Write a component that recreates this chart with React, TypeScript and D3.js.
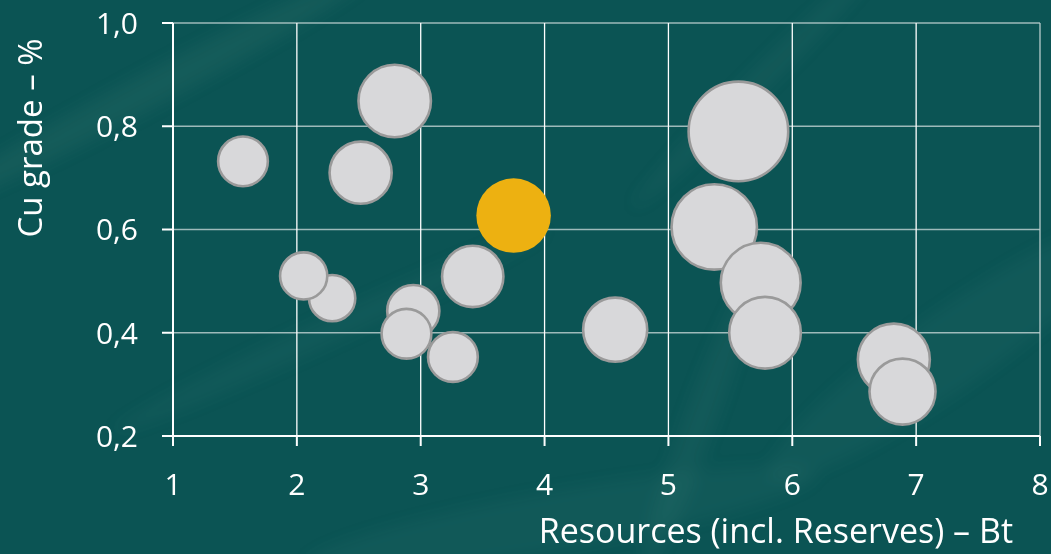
import React from "react";
import * as d3 from "d3";

// Data: resources (Bt), Cu grade (%), contained copper (Mt) -> bubble size
const names = ["A","B","C","D","E","F","G","H","I","J","K","L","M","N","O","P","Q"];
const resources = [1.565, 2.79, 2.515, 5.565, 5.37, 5.745, 5.78, 6.82, 6.89, 4.57, 3.42, 2.94, 2.885, 3.26, 2.285, 2.055, 3.75];
const cuGrade = [0.732, 0.849, 0.71, 0.79, 0.605, 0.497, 0.40, 0.348, 0.286, 0.406, 0.509, 0.442, 0.398, 0.353, 0.467, 0.51, 0.627];
const contained = [11.5, 23.7, 17.6, 44.0, 32.6, 28.6, 23.2, 23.4, 19.8, 18.7, 17.2, 12.6, 11.5, 11.5, 10.0, 10.4, 23.5];
const highlight = [false, false, false, false, false, false, false, false, false, false, false, false, false, false, false, false, true];

const xTicks = [1, 2, 3, 4, 5, 6, 7, 8];
const yTicks = [0.2, 0.4, 0.6, 0.8, 1.0];
const xTitle = "Resources (incl. Reserves) – Bt";
const yTitle = "Cu grade – %";

const W = 1051;
const H = 554;

export default function App() {
  const x = d3.scaleLinear().domain([1, 8]).range([173, 1040]);
  const y = d3.scaleLinear().domain([0.2, 1.0]).range([436, 23]);
  const r = d3.scaleSqrt().domain([0, 44]).range([0, 51]);
  const fmt = (v: number) => d3.format(".1f")(v).replace(".", ",");
  const font = "'Open Sans', sans-serif";

  const streaks = [
    { cx: 150, cy: 90, rx: 260, ry: 18, a: -28, o: 0.07 },
    { cx: 330, cy: 330, rx: 240, ry: 14, a: -25, o: 0.05 },
    { cx: 760, cy: 80, rx: 180, ry: 12, a: -45, o: 0.06 },
    { cx: 950, cy: 350, rx: 220, ry: 40, a: -35, o: 0.05 },
    { cx: 700, cy: 420, rx: 160, ry: 16, a: -70, o: 0.06 },
    { cx: 560, cy: 520, rx: 260, ry: 30, a: -10, o: 0.05 },
  ];

  return (
    <div style={{ position: "fixed", left: 0, top: 0 }}>
      <svg width={W} height={H} style={{ display: "block" }}>
        <defs>
          <filter id="blur" x="-50%" y="-50%" width="200%" height="200%">
            <feGaussianBlur stdDeviation="8" />
          </filter>
        </defs>
        <rect x={0} y={0} width={W} height={H} fill="#0b5454" />
        <g filter="url(#blur)">
          {streaks.map((s, i) => (
            <ellipse key={i} cx={s.cx} cy={s.cy} rx={s.rx} ry={s.ry}
              transform={`rotate(${s.a} ${s.cx} ${s.cy})`} fill="#8fc0a8" opacity={s.o} />
          ))}
        </g>

        {/* horizontal grid */}
        {yTicks.filter((t) => t > 0.2).map((t) => (
          <line key={"hy" + t} x1={x(1)} x2={x(8)} y1={y(t)} y2={y(t)}
            stroke="#b9cccc" strokeOpacity={0.85} strokeWidth={1.5} />
        ))}
        {/* vertical grid */}
        {xTicks.filter((t) => t > 1).map((t) => (
          <line key={"vx" + t} x1={x(t)} x2={x(t)} y1={y(1.0)} y2={y(0.2)}
            stroke={t === 8 ? "#b9cccc" : "#ffffff"} strokeWidth={1.3} />
        ))}
        {/* axes */}
        <line x1={x(1)} x2={x(8)} y1={y(0.2)} y2={y(0.2)} stroke="#ffffff" strokeWidth={2} />
        <line x1={x(1)} x2={x(1)} y1={y(1.0)} y2={y(0.2)} stroke="#ffffff" strokeWidth={2} />
        {yTicks.map((t) => (
          <g key={"yt" + t}>
            <line x1={x(1) - 11} x2={x(1)} y1={y(t)} y2={y(t)} stroke="#ffffff" strokeWidth={2} />
            <text x={138} y={y(t)} dy="0.36em" textAnchor="end" fill="#ffffff"
              fontFamily={font} fontSize={30}>{fmt(t)}</text>
          </g>
        ))}
        {xTicks.map((t) => (
          <g key={"xt" + t}>
            <line x1={x(t)} x2={x(t)} y1={y(0.2)} y2={y(0.2) + 10} stroke="#ffffff" strokeWidth={2} />
            <text x={x(t)} y={495} textAnchor="middle" fill="#ffffff"
              fontFamily={font} fontSize={30}>{t}</text>
          </g>
        ))}

        {/* bubbles */}
        {names.map((n, i) => (
          <circle key={n} cx={x(resources[i])} cy={y(cuGrade[i])} r={r(contained[i]) - (highlight[i] ? 0 : 1.2)}
            fill={highlight[i] ? "#edb111" : "#d8d8da"}
            stroke={highlight[i] ? "none" : "#9a9a9a"} strokeWidth={2.6} />
        ))}

        <text x={1013} y={543} textAnchor="end" fill="#ffffff" fontFamily={font} fontSize={34}>{xTitle}</text>
        <text transform={`translate(42, 138) rotate(-90)`} textAnchor="middle" fill="#ffffff"
          fontFamily={font} fontSize={33}>{yTitle}</text>
      </svg>
    </div>
  );
}
